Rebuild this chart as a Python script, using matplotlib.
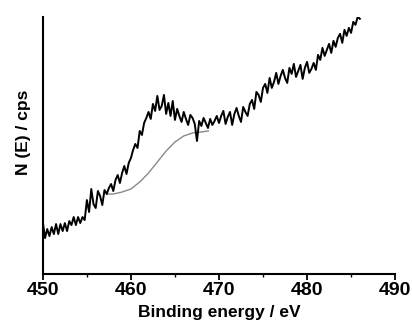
import matplotlib
matplotlib.use("Agg")
import matplotlib.pyplot as plt
from matplotlib.ticker import MultipleLocator

# measured spectrum, binding energy step 0.25 eV from 450 to 486
energy_start = 450.0
energy_step = 0.25
counts = [
    52, 36, 45, 38, 47, 40, 50, 40, 50, 43, 51, 43, 53, 49, 57, 49, 57, 51, 57, 54,
    74, 62, 85, 70, 66, 83, 78, 69, 84, 80, 86, 90, 83, 94, 99, 91, 101, 108, 100, 111,
    116, 124, 130, 126, 143, 139, 151, 156, 162, 155, 170, 163, 178, 164, 168, 179, 160, 171, 158, 173,
    154, 165, 158, 152, 162, 155, 149, 159, 156, 150, 133, 153, 148, 156, 151, 146, 155, 149, 153, 158,
    151, 158, 163, 150, 157, 162, 149, 160, 166, 158, 152, 167, 162, 158, 170, 174, 165, 182, 179, 172,
    186, 190, 181, 196, 186, 192, 201, 190, 198, 204, 196, 191, 206, 200, 210, 197, 203, 209, 195, 206,
    212, 201, 205, 211, 204, 219, 214, 226, 218, 224, 230, 221, 233, 227, 236, 240, 231, 244, 238, 246,
    241, 252, 249, 257, 255,
]
energy = [energy_start + i * energy_step for i in range(len(counts))]

# Shirley-type background under the peak
bg_energy = [457.3, 458.0, 459.0, 460.0, 461.0, 462.0, 463.0, 464.0, 465.0, 466.0, 467.0, 468.0, 468.8]
bg_counts = [80, 80, 82, 85, 92, 101, 112, 123, 132, 138, 141, 142, 143]

xticks = [450, 460, 470, 480, 490]

plt.rcParams['font.family'] = ['Liberation Sans', 'DejaVu Sans']

fig = plt.figure(figsize=(4.12, 3.24), dpi=100)
ax = fig.add_axes([0.104, 0.154, 0.855, 0.794])

ax.plot(bg_energy, bg_counts, color="#8a8a8a", lw=1.0)
ax.plot(energy, counts, color="black", lw=1.4)

ax.set_xlim(450, 490)
ax.set_ylim(0, 257)
ax.set_xticks(xticks)
ax.xaxis.set_minor_locator(MultipleLocator(5))
ax.set_yticks([])

for side in ["top", "right"]:
    ax.spines[side].set_visible(False)
for side in ["left", "bottom"]:
    ax.spines[side].set_linewidth(1.5)

ax.tick_params(axis="x", which="major", direction="out", length=4, width=1.3, pad=2)
ax.tick_params(axis="x", which="minor", direction="out", length=2, width=1.0)
for lab in ax.get_xticklabels():
    lab.set_fontsize(14)
    lab.set_fontweight("bold")

ax.set_xlabel("Binding energy / eV", fontsize=12.5, fontweight="bold", labelpad=4)
ax.set_ylabel("N (E) / cps", fontsize=12.5, fontweight="bold")
ax.yaxis.set_label_coords(-0.034, 0.55)

fig.savefig("out.png", dpi=100)
